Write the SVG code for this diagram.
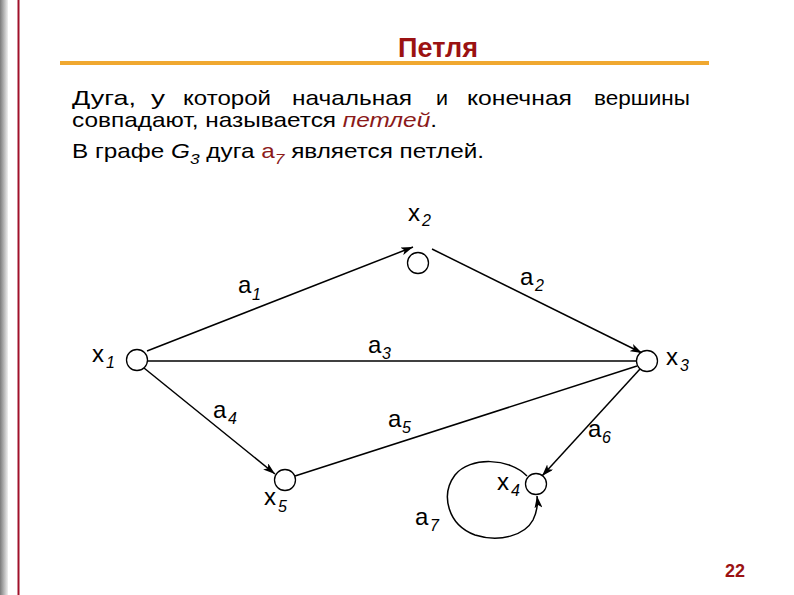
<svg xmlns="http://www.w3.org/2000/svg" width="794" height="595" viewBox="0 0 794 595">
<defs>
<linearGradient id="strip" x1="0" y1="0" x2="1" y2="0">
<stop offset="0" stop-color="#7a7a7a"/>
<stop offset="1" stop-color="#f0f0f0"/>
</linearGradient>
<marker id="arr" viewBox="0 0 12 8" refX="12" refY="4" markerWidth="12" markerHeight="8" markerUnits="userSpaceOnUse" orient="auto">
<path d="M0,0 L12,4 L0,8 L3,4 z" fill="#000"/>
</marker>
<style>
.node{fill:#fff;stroke:#000;stroke-width:1.3}
.edge{fill:none;stroke:#000;stroke-width:1.5}
.lbl{font-family:"Liberation Sans",Arial,sans-serif;font-size:24px;fill:#000}
.sub{font-family:"Liberation Sans",Arial,sans-serif;font-size:16px;font-style:italic;fill:#000}
.body{font-family:"Liberation Sans",Arial,sans-serif;font-size:21px;fill:#000}
.red{fill:#8b1a1a}
</style>
</defs>
<rect x="0" y="0" width="794" height="595" fill="#fff"/>
<rect x="0" y="0" width="8" height="595" fill="url(#strip)"/>
<rect x="17.5" y="0" width="2" height="595" fill="#a0102a"/>
<text x="398" y="57" textLength="80" lengthAdjust="spacingAndGlyphs" style="font-family:'Liberation Sans',Arial,sans-serif;font-size:28px;font-weight:bold;fill:#9b1212">Петля</text>
<rect x="60" y="61" width="649" height="4" fill="#f0a830"/>
<g id="body-text">
<text x="72" y="105" class="body" textLength="64" lengthAdjust="spacingAndGlyphs">Дуга,</text>
<text x="151" y="105" class="body" textLength="14" lengthAdjust="spacingAndGlyphs">у</text>
<text x="183" y="105" class="body" textLength="88" lengthAdjust="spacingAndGlyphs">которой</text>
<text x="292" y="105" class="body" textLength="120" lengthAdjust="spacingAndGlyphs">начальная</text>
<text x="436" y="105" class="body" textLength="12" lengthAdjust="spacingAndGlyphs">и</text>
<text x="467" y="105" class="body" textLength="105" lengthAdjust="spacingAndGlyphs">конечная</text>
<text x="594" y="105" class="body" textLength="96" lengthAdjust="spacingAndGlyphs">вершины</text>
<text x="72" y="127" class="body" textLength="365" lengthAdjust="spacingAndGlyphs">совпадают, называется <tspan class="red" font-style="italic">петлей</tspan>.</text>
<text x="72" y="158" class="body" textLength="412" lengthAdjust="spacingAndGlyphs">В графе <tspan font-style="italic">G</tspan><tspan font-size="15" font-style="italic" dy="6">3</tspan><tspan dy="-6"> дуга </tspan><tspan class="red">a</tspan><tspan class="red" font-size="15" font-style="italic" dy="6">7</tspan><tspan dy="-6"> является петлей.</tspan></text>
</g>
<text x="735" y="577" text-anchor="middle" style="font-family:'Liberation Sans',Arial,sans-serif;font-size:18px;font-weight:bold;fill:#9b1212">22</text>
<g id="connectors">
<line id="a1" class="edge" x1="147" y1="351" x2="413" y2="247" marker-end="url(#arr)"/>
<line id="a2" class="edge" x1="432" y1="249" x2="642" y2="353" marker-end="url(#arr)"/>
<line id="a3" class="edge" x1="147" y1="361" x2="637" y2="361" stroke-width="2.6"/>
<line id="a4" class="edge" x1="144" y1="368" x2="275" y2="474" marker-end="url(#arr)"/>
<line id="a5" class="edge" x1="295" y1="476" x2="637" y2="366"/>
<line id="a6" class="edge" x1="640" y1="369" x2="542" y2="476" marker-end="url(#arr)"/>
<path id="a7" class="edge" d="M527,476 C510,458 470,456 455,475 C440,495 448,525 475,535 C500,543 525,535 533,520 C537,512 538,504 537,496" marker-end="url(#arr)"/>
</g>
<g id="x1"><circle class="node" cx="137" cy="360" r="10.5"/></g>
<g id="x2"><circle class="node" cx="418" cy="263" r="10.5"/></g>
<g id="x3"><circle class="node" cx="647" cy="361" r="10.5"/></g>
<g id="x4"><circle class="node" cx="536" cy="484" r="10.5"/></g>
<g id="x5"><circle class="node" cx="285" cy="480" r="10.5"/></g>
<g id="labels">
<text class="lbl" x="408" y="221">x</text><text class="sub" x="422" y="226" font-style="normal">2</text>
<text class="lbl" x="92" y="362">x</text><text class="sub" x="106" y="368">1</text>
<text class="lbl" x="666" y="365">x</text><text class="sub" x="680" y="371">3</text>
<text class="lbl" x="497" y="490">x</text><text class="sub" x="511" y="496">4</text>
<text class="lbl" x="264" y="505">x</text><text class="sub" x="278" y="512">5</text>
<text class="lbl" x="238" y="293">a</text><text class="sub" x="252" y="300">1</text>
<text class="lbl" x="520" y="285">a</text><text class="sub" x="535" y="291" font-style="normal">2</text>
<text class="lbl" x="368" y="353">a</text><text class="sub" x="382" y="359">3</text>
<text class="lbl" x="213" y="418">a</text><text class="sub" x="228" y="424">4</text>
<text class="lbl" x="388" y="427">a</text><text class="sub" x="402" y="433">5</text>
<text class="lbl" x="588" y="437">a</text><text class="sub" x="602" y="443">6</text>
<text class="lbl" x="415" y="525">a</text><text class="sub" x="430" y="531">7</text>
</g>
</svg>
